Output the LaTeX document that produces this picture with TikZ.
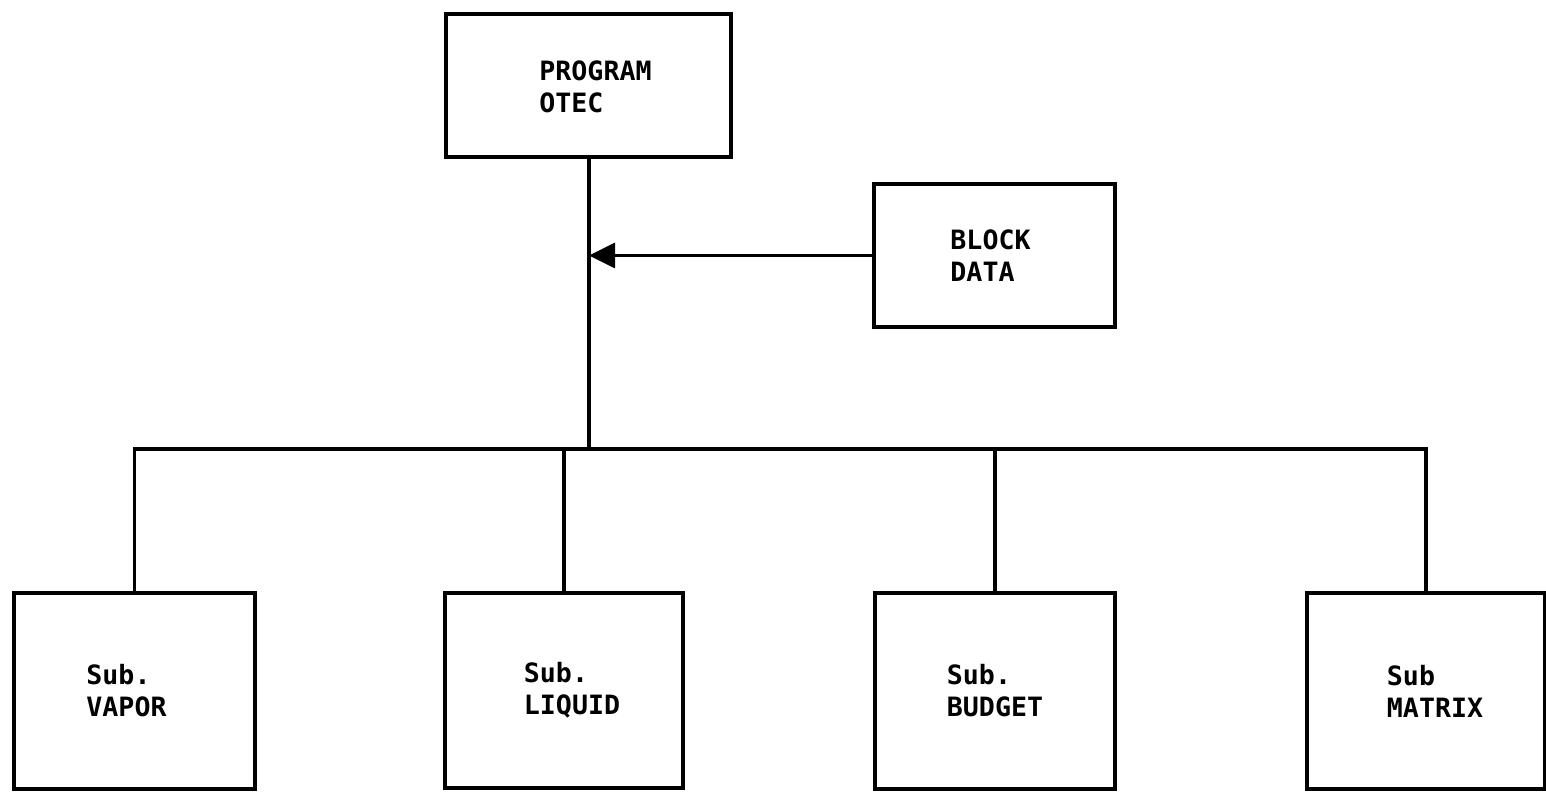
\documentclass[tikz,border=0pt]{standalone}
\usepackage{fontspec}
\newfontfamily\typ{DejaVu Sans Mono Bold}
\usetikzlibrary{arrows.meta}
\tikzset{
  box/.style={draw, line width=1.8pt, inner sep=0pt},
  txt/.style={align=left, inner sep=0pt, font=\typ\fontsize{13.3pt}{16pt}\selectfont},
  conn/.style={line width=1.6pt, line join=miter},
}
\begin{document}
\begin{tikzpicture}[x=0.5pt,y=-0.5pt]
\useasboundingbox (0,0) rectangle (1546,801);
\node[box, minimum width=142.5pt, minimum height=71.5pt,
  label={[txt, xshift=3.5pt, yshift=-0.5pt]center:{PROGRAM\\OTEC}}] (prog) at (588.5,85.5) {};
\node[box, minimum width=120.5pt, minimum height=71.5pt,
  label={[txt, xshift=-2pt]center:{BLOCK\\DATA}}] (blk) at (994.5,255.5) {};
\node[box, minimum width=120.5pt, minimum height=98pt,
  label={[txt, xshift=-4pt]center:{Sub.\\VAPOR}}] (vap) at (134.5,691) {};
\node[box, minimum width=119pt, minimum height=97.5pt,
  label={[txt, xshift=4pt]center:{Sub.\\LIQUID}}] (liq) at (564,690.5) {};
\node[box, minimum width=120pt, minimum height=98pt,
  label={[txt]center:{Sub.\\BUDGET}}] (bud) at (995,691) {};
\node[box, minimum width=119pt, minimum height=98pt,
  label={[txt, xshift=4.5pt]center:{Sub\\MATRIX}}] (mat) at (1426,691) {};
\coordinate (j) at (589,449);
\draw[conn] (prog.south -| j) -- (j);
\draw[conn] (vap.north) -- (vap.north |- j) -- (mat.north |- j) -- (mat.north);
\draw[conn] (liq.north) -- (liq.north |- j);
\draw[conn] (bud.north) -- (bud.north |- j);
\draw[conn, -{Triangle[length=13pt, width=12.5pt]}] (blk.west) -- (j |- blk.west);
\end{tikzpicture}
\end{document}
